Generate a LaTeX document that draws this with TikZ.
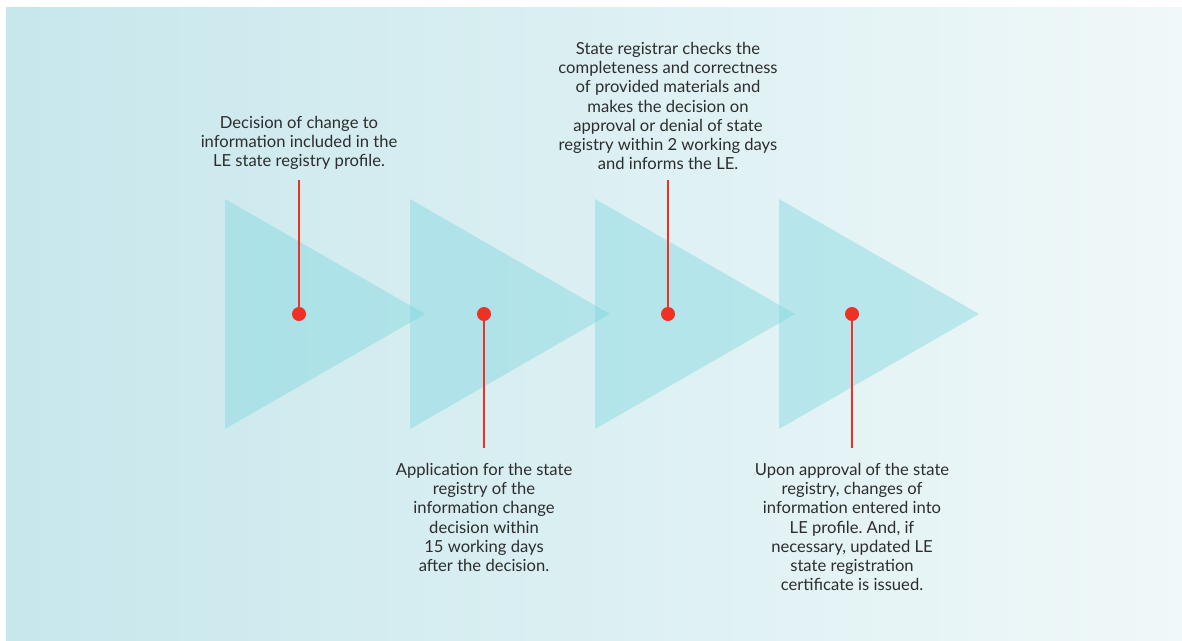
\documentclass[tikz,border=0pt]{standalone}
\usepackage{fontspec}
\setmainfont{Lato}
\frenchspacing
\usetikzlibrary{positioning}

\definecolor{bgleft}{RGB}{199,231,236}
\definecolor{bgright}{RGB}{240,248,249}
\definecolor{arrowfill}{RGB}{122,214,222}
\definecolor{pinred}{RGB}{238,49,36}
\definecolor{textgray}{RGB}{45,45,45}

\tikzset{
  arrowtri/.style={fill=arrowfill,fill opacity=0.42},
  pin/.style={draw=pinred,line width=2.6pt},
  pindot/.style={fill=pinred},
  steptext/.style={align=center,text=textgray,inner sep=0pt,
    font=\fontsize{16.6}{19.2}\selectfont}
}

\begin{document}
\begin{tikzpicture}[x=1pt,y=-1pt]
  \useasboundingbox (0,0) rectangle (1182,640);
  % background
  \shade[left color=bgleft,right color=bgright] (6,7) rectangle (1182,640);

  % the four arrow heads
  \foreach \x in {225,410,595,779}
    \fill[arrowtri] (\x,199) -- (\x+200,314) -- (\x,429) -- cycle;

  % pins
  \coordinate (d1) at (299,314);
  \coordinate (d2) at (484,314);
  \coordinate (d3) at (668,314);
  \coordinate (d4) at (852,314);
  \coordinate (e1) at (299,180);
  \coordinate (e2) at (484,448);
  \coordinate (e3) at (668,180);
  \coordinate (e4) at (852,448);

  \node[steptext,above=10pt of e1] (t1)
    {Decision of change to\\information included in the\\LE state registry profile.};
  \node[steptext,below=15pt of e2] (t2)
    {Application for the state\\registry of the\\information change\\decision within\\15 working days\\after the decision.};
  \node[steptext,above=10pt of e3] (t3)
    {State registrar checks the\\completeness and correctness\\of provided materials and\\makes the decision on\\approval or denial of state\\registry within 2 working days\\and informs the LE.};
  \node[steptext,below=15pt of e4] (t4)
    {Upon approval of the state\\registry, changes of\\information entered into\\LE profile. And, if\\necessary, updated LE\\state registration\\certificate is issued.};

  \draw[pin] (d1) -- (e1);
  \draw[pin] (d2) -- (e2);
  \draw[pin] (d3) -- (e3);
  \draw[pin] (d4) -- (e4);
  \foreach \d in {d1,d2,d3,d4}
    \fill[pindot] (\d) circle (7);
\end{tikzpicture}
\end{document}
